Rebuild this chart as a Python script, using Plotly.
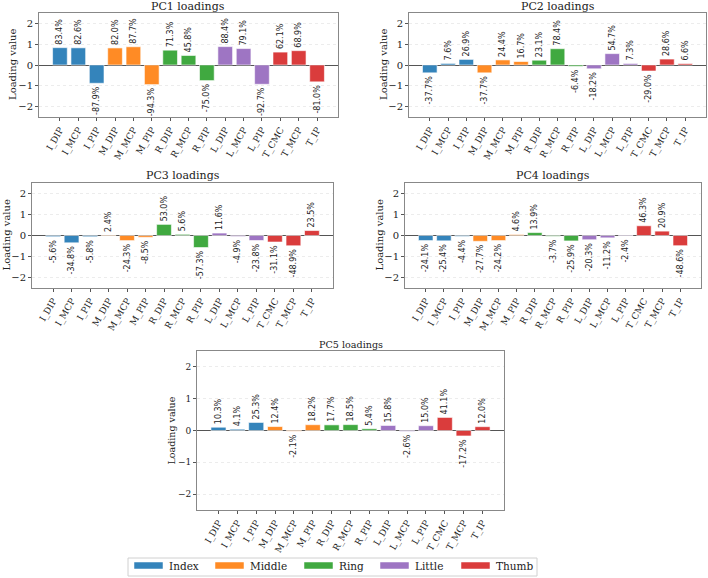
import plotly.graph_objects as go

joints = ["I_DIP", "I_MCP", "I_PIP", "M_DIP", "M_MCP", "M_PIP", "R_DIP", "R_MCP",
          "R_PIP", "L_DIP", "L_MCP", "L_PIP", "T_CMC", "T_MCP", "T_IP"]
fingers = ["Index", "Middle", "Ring", "Little", "Thumb"]
finger_colors = ["#1f77b4", "#ff7f0e", "#2ca02c", "#9467bd", "#d62728"]
prefix_to_finger = {"I": 0, "M": 1, "R": 2, "L": 3, "T": 4}

pc_names = ["PC1", "PC2", "PC3", "PC4", "PC5"]
pc1 = [83.4, 82.6, -87.9, 82.0, 87.7, -94.3, 71.3, 45.8, -75.0, 88.4, 79.1, -92.7, 62.1, 68.9, -81.0]
pc2 = [-37.7, 7.6, 26.9, -37.7, 24.4, 16.7, 23.1, 78.4, -6.4, -18.2, 54.7, 7.3, -29.0, 28.6, 6.6]
pc3 = [-5.6, -34.8, -5.8, 2.4, -24.3, -8.5, 53.0, 5.6, -57.3, 11.6, -4.9, -23.8, -31.1, -48.9, 23.5]
pc4 = [-24.1, -25.4, -4.4, -27.7, -24.2, 4.6, 13.9, -3.7, -25.9, -20.3, -11.2, -2.4, 46.3, 20.9, -48.6]
pc5 = [10.3, 4.1, 25.3, 12.4, -2.1, 18.2, 17.7, 18.5, 5.4, 15.8, -2.6, 15.0, 41.1, -17.2, 12.0]
pcs = [pc1, pc2, pc3, pc4, pc5]

W, H = 708, 578
SERIF = "DejaVu Serif"
SANS = "DejaVu Sans"

# plot boxes in pixels: (left, right, top, bottom)
boxes = [(39, 338, 13, 117), (409, 706, 13, 117),
         (32, 333, 183, 288), (405, 701, 183, 288),
         (197, 504, 351, 510)]
title_y = [6, 6, 175, 175, 344]
title_sizes = [11, 11, 11, 11, 9.6]
ytitle_x = [12, 383, 6, 379, 171]


def px(x):
    return x / W


def py(y):
    return 1 - y / H


bar_colors = [finger_colors[prefix_to_finger[j[0]]] for j in joints]

fig = go.Figure()
annotations = []
shapes = []
for k, (name, vals) in enumerate(zip(pc_names, pcs)):
    sfx = "" if k == 0 else str(k + 1)
    l, r, t, b = boxes[k]
    fig.add_trace(go.Bar(
        x=list(range(len(joints))),
        y=[v / 100 for v in vals],
        width=0.8,
        marker=dict(color=bar_colors, opacity=0.9, line=dict(color="white", width=0.6)),
        text=[f"{v:.1f}%" for v in vals],
        textposition="outside",
        textangle=-90,
        constraintext="none",
        cliponaxis=False,
        textfont=dict(family=SANS, size=8, color="#222"),
        xaxis="x" + sfx, yaxis="y" + sfx,
        showlegend=False,
        hoverinfo="skip",
    ))
    fig.update_layout(**{
        "xaxis" + sfx: dict(
            domain=[px(l), px(r)], anchor="y" + sfx,
            range=[-1.14, 15.14],
            tickvals=list(range(len(joints))), ticktext=joints,
            tickangle=-60, ticks="outside", ticklen=3, tickcolor="#555",
            tickfont=dict(family=SERIF, size=9, color="#222"),
            showgrid=False, zeroline=False,
            showline=True, mirror=True, linecolor="#888", linewidth=1,
        ),
        "yaxis" + sfx: dict(
            domain=[py(b), py(t)], anchor="x" + sfx,
            range=[-2.5, 2.5],
            tickvals=[-2, -1, 0, 1, 2],
            ticks="outside", ticklen=3, tickcolor="#555",
            tickfont=dict(family=SERIF, size=10 if k < 4 else 9, color="#222"),
            showgrid=True, gridcolor="#ececec", griddash="dot", gridwidth=1,
            zeroline=True, zerolinecolor="#555", zerolinewidth=1,
            showline=True, mirror=True, linecolor="#888", linewidth=1,
        ),
    })
    annotations.append(dict(
        text=f"{name} loadings", x=px((l + r) / 2), y=py(title_y[k]),
        xref="paper", yref="paper", xanchor="center", yanchor="middle",
        showarrow=False, font=dict(family=SERIF, size=title_sizes[k], color="#222"),
    ))
    annotations.append(dict(
        text="Loading value", x=px(ytitle_x[k]), y=py((t + b) / 2),
        xref="paper", yref="paper", xanchor="center", yanchor="middle",
        textangle=-90, showarrow=False,
        font=dict(family=SERIF, size=10 if k < 4 else 9.5, color="#222"),
    ))

# manual legend
leg_box = (128, 537, 558, 576)
shapes.append(dict(type="rect", xref="paper", yref="paper",
                   x0=px(leg_box[0]), x1=px(leg_box[1]), y0=py(leg_box[3]), y1=py(leg_box[2]),
                   line=dict(color="#d0d0d0", width=1), fillcolor="white"))
patch_x = [134, 215, 304, 380, 461]
for i, f in enumerate(fingers):
    x0 = patch_x[i]
    shapes.append(dict(type="rect", xref="paper", yref="paper",
                       x0=px(x0), x1=px(x0 + 29), y0=py(569), y1=py(562),
                       line=dict(color="white", width=0.5), fillcolor=finger_colors[i], opacity=0.9))
    annotations.append(dict(
        text=f, x=px(x0 + 33), y=py(566), xref="paper", yref="paper",
        xanchor="left", yanchor="middle", showarrow=False,
        font=dict(family=SERIF, size=10.5, color="#222"),
    ))

fig.update_layout(
    width=W, height=H,
    margin=dict(l=0, r=0, t=0, b=0),
    paper_bgcolor="white", plot_bgcolor="white",
    annotations=annotations, shapes=shapes,
    showlegend=False,
    bargap=0.2,
)
fig.write_html("out.html")
